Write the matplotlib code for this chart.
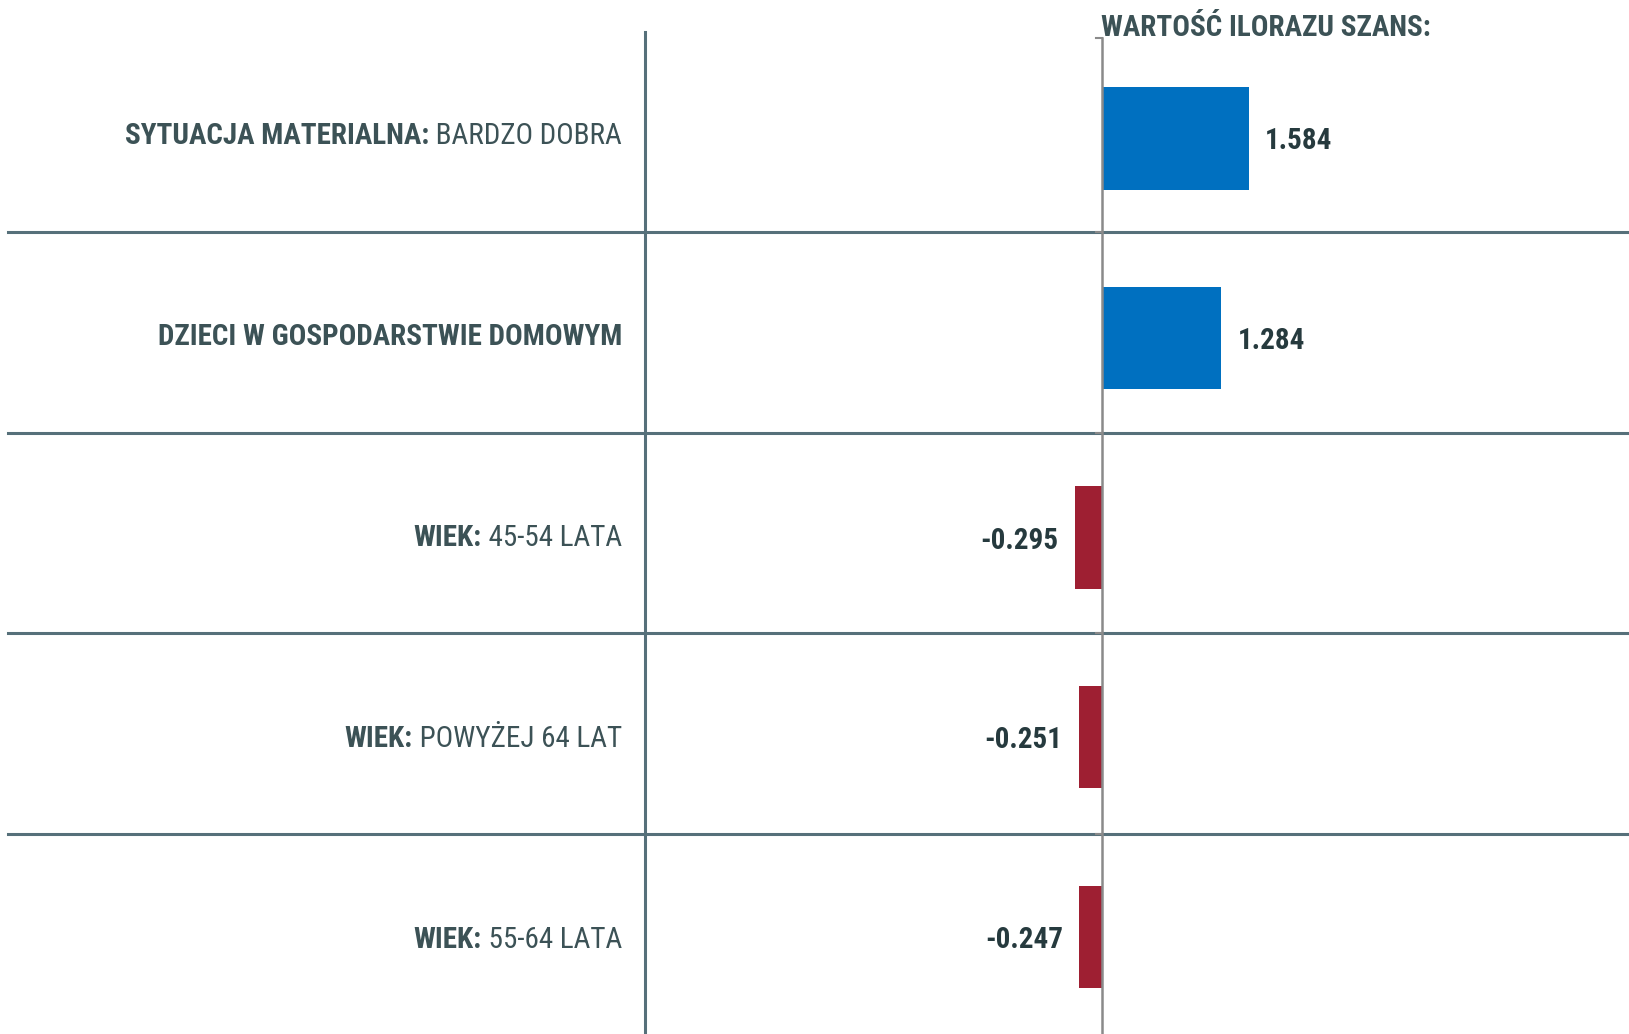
import matplotlib
matplotlib.use("Agg")
import matplotlib.pyplot as plt
from matplotlib import font_manager

# data
bold_parts = ["SYTUACJA MATERIALNA:", "DZIECI W GOSPODARSTWIE DOMOWYM", "WIEK:", "WIEK:", "WIEK:"]
plain_parts = [" BARDZO DOBRA", "", " 45-54 LATA", " POWYŻEJ 64 LAT", " 55-64 LATA"]
values = [1.584, 1.284, -0.295, -0.251, -0.247]
title = "WARTOŚĆ ILORAZU SZANS:"

# narrow font if there is one
names = {f.name for f in font_manager.fontManager.ttflist}
fam = "Liberation Sans"
for cand in ["Liberation Sans Narrow", "Roboto Condensed", "Arial Narrow", "Roboto"]:
    if cand in names:
        fam = cand
        break
plt.rcParams['font.family'] = [fam, 'DejaVu Sans']

W, H = 1629, 1034
zero_px = 1102
unit_px = 93.0
band_px = 200.8
first_center_px = 131.3

txt_col = "#3c5256"
sep_col = "#56707a"
pos_col = "#0070c0"
neg_col = "#9e1f32"

fig = plt.figure(figsize=(W / 100, H / 100), dpi=100)
ax = fig.add_axes([0, 0, 1, 1])
ax.set_xlim(-zero_px / unit_px, (W - zero_px) / unit_px)
ax.set_ylim((H - first_center_px) / band_px, -first_center_px / band_px)
ax.axis("off")
r = fig.canvas.get_renderer()

# pick a font size so the longest label is as wide as in the original (~469 px)
probe = fig.text(0, 0, bold_parts[1], fontsize=21, fontweight="bold")
w = probe.get_window_extent(renderer=r).width
probe.remove()
fs = min(21, 21 * 469 / w)
fs = max(fs, 17.5)

# bars sit a touch low in their rows, less so further down
y = [i * 0.994 + 0.035 for i in range(len(values))]
cols = [pos_col if v > 0 else neg_col for v in values]
ax.barh(y, values, height=0.51, color=cols, zorder=3)

# row separators
for i in range(len(values) - 1):
    ax.axhline(i + 0.5, xmin=8 / W, xmax=1, color=sep_col, lw=2.2, zorder=2)

# divider between labels and plot
ax.axvline((645 - zero_px) / unit_px, ymin=0, ymax=1 - 32 / H, color=sep_col, lw=2.2, zorder=2)
# zero axis
ax.axvline(0, ymin=0, ymax=1 - 38 / H, color="#8a8a8a", lw=1.8, zorder=4)
tick_len = 6 / unit_px
for yy in [-0.465] + [i + 0.5 for i in range(len(values) - 1)]:
    ax.plot([-tick_len, 0], [yy, yy], color="#8a8a8a", lw=1.5, zorder=4)

# value labels
for i, v in enumerate(values):
    off = 16 / unit_px
    if v > 0:
        ax.text(v + off, y[i] + 0.015, f"{v:.3f}", ha="left", va="center",
                fontsize=fs, fontweight="bold", color="#263a3e")
    else:
        ax.text(v - off, y[i] + 0.015, f"{v:.3f}", ha="right", va="center",
                fontsize=fs, fontweight="bold", color="#263a3e")

# category labels (bold + regular)
lab_x = (622 - zero_px) / unit_px
for i in range(len(values)):
    x_right = lab_x
    yl = i + 0.025
    if plain_parts[i]:
        t = ax.text(lab_x, yl, plain_parts[i], ha="right", va="center",
                    fontsize=fs, color=txt_col)
        bb = t.get_window_extent(renderer=r)
        x_right = lab_x - bb.width / unit_px
    ax.text(x_right, yl, bold_parts[i], ha="right", va="center",
            fontsize=fs, fontweight="bold", color=txt_col)

fig.text(1101 / W, 1 - 28 / H, title, ha="left", va="center",
         fontsize=fs, fontweight="bold", color=txt_col)

fig.savefig("out.png", dpi=100)
